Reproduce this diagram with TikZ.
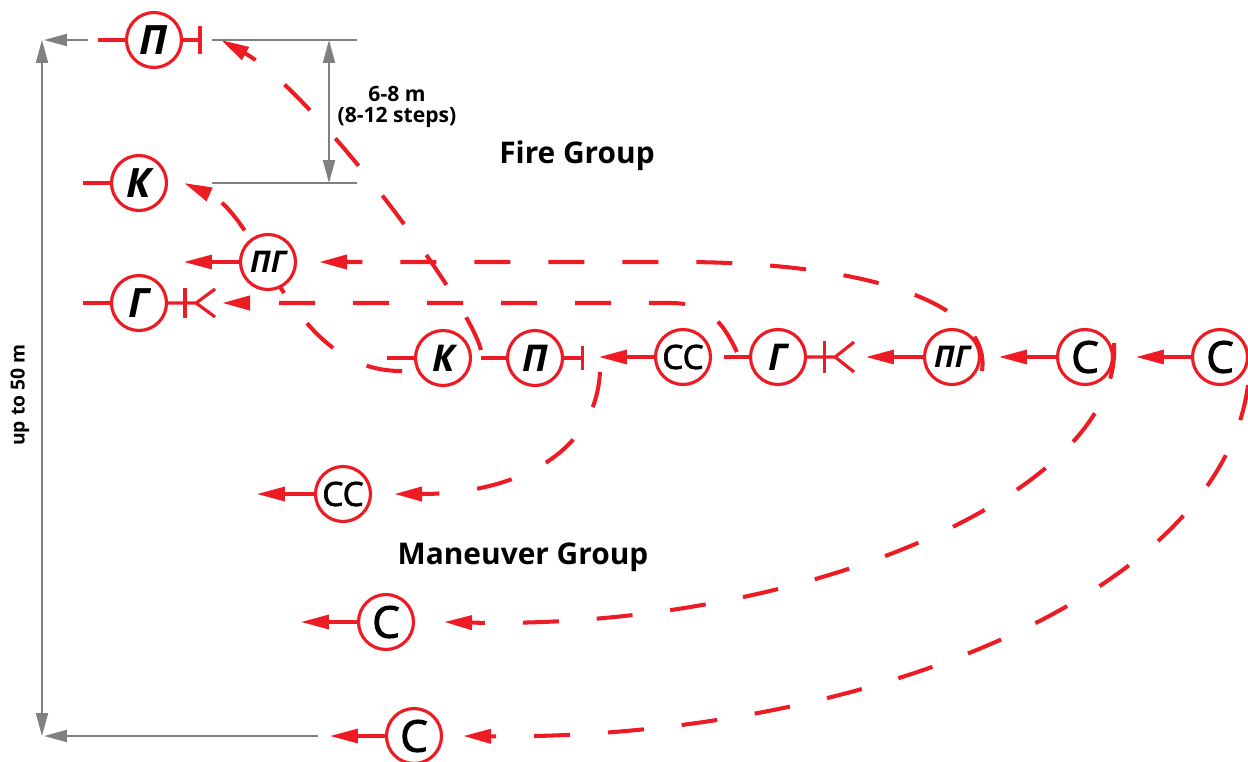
\documentclass[tikz,border=0pt]{standalone}
\usepackage{fontspec}
\setmainfont{Open Sans}
\newfontfamily\medfont[FakeBold=2]{Open Sans}
\usetikzlibrary{arrows.meta,backgrounds}
\definecolor{unitred}{RGB}{237,28,36}
\definecolor{dimgray}{RGB}{128,128,128}
\tikzset{
  unit/.style={circle,draw=unitred,line width=1.8pt,fill=white,minimum size=1.1cm,inner sep=0pt},
  bigletter/.style={font=\bfseries\itshape\fontsize{23}{23}\selectfont},
  rowletter/.style={font=\bfseries\itshape\fontsize{21}{21}\selectfont},
  pairletter/.style={font=\bfseries\itshape\fontsize{17}{17}\selectfont},
  cletter/.style={font=\medfont\fontsize{25}{25}\selectfont},
  ccletter/.style={font=\medfont\fontsize{19}{19}\selectfont},
  tail/.style={unitred,line width=1.8pt},
  lead/.style={unitred,line width=1.8pt,-{Triangle[length=0.56cm,width=0.28cm]}},
  move/.style={unitred,line width=2.3pt,dash pattern=on 0.72cm off 0.76cm,-{Triangle[length=0.56cm,width=0.28cm]}},
  dimline/.style={dimgray,line width=1.1pt},
  dimarrow/.style={dimgray,line width=1.1pt,-{Triangle[length=0.46cm,width=0.24cm]}},
  dimboth/.style={dimgray,line width=1.1pt,{Triangle[length=0.46cm,width=0.24cm]}-{Triangle[length=0.46cm,width=0.24cm]}},
  grouptext/.style={font=\bfseries\fontsize{17}{17}\selectfont},
  dimtext/.style={font=\bfseries\fontsize{12}{12}\selectfont,align=center},
  sidetext/.style={font=\bfseries\fontsize{11}{11}\selectfont,rotate=90}
}
\begin{document}
\begin{tikzpicture}[x=0.02cm,y=-0.02cm]
  \useasboundingbox (0,0) rectangle (1248,761);

  % fire group, new places
  \node[unit,bigletter] (ptop) at (154,40) {П};
  \node[unit,bigletter] (ktop) at (139,183) {К};
  \node[unit,pairletter] (pgup) at (268,262) {ПГ};
  \node[unit,bigletter] (gleft) at (139,303) {Г};

  % column on the move
  \node[unit,rowletter] (krow) at (443,358) {К};
  \node[unit,rowletter] (prow) at (535,358) {П};
  \node[unit,ccletter] (ccrow) at (683,357) {СС};
  \node[unit,rowletter] (grow) at (778,357) {Г};
  \node[unit,pairletter] (pgrow) at (952,357) {ПГ};
  \node[unit,cletter] (crow) at (1085,357) {С};
  \node[unit,cletter] (cright) at (1220,357) {С};

  % maneuver group, new places
  \node[unit,ccletter] (cclow) at (343,494) {СС};
  \node[unit,cletter] (clowa) at (386,622) {С};
  \node[unit,cletter] (clowb) at (414,736) {С};

  % tails and weapons
  \draw[tail] (ptop.west) -- ++(-27,0);
  \draw[tail] (ptop.east) -- ++(17,0) ++(0,-14) -- ++(0,28);
  \draw[tail] (ktop.west) -- ++(-27,0);
  \draw[tail] (gleft.west) -- ++(-27,0);
  \draw[tail] (gleft.east) -- ++(28,0) ++(19,-14) -- ++(-19,14) -- ++(19,14);
  \draw[tail] ([shift={(17,-15)}]gleft.east) -- ++(0,30);
  \draw[tail] (krow.west) -- ++(-27,0);
  \draw[tail] (prow.west) -- ++(-25,0);
  \draw[tail] (prow.east) -- ++(18,0) ++(0,-12) -- ++(0,24);
  \draw[tail] (grow.west) -- ++(-25,0);
  \draw[tail] (grow.east) -- ++(28,0) ++(19,-15) -- ++(-19,15) -- ++(19,15);
  \draw[tail] ([shift={(17,-16)}]grow.east) -- ++(0,32);
  \draw[lead] (pgup.west) -- ++(-55,0);
  \draw[lead] (ccrow.west) -- ++(-55,0);
  \draw[lead] (pgrow.west) -- ++(-57,0);
  \draw[lead] (crow.west) -- ++(-57,0);
  \draw[lead] (cright.west) -- ++(-55,0);
  \draw[lead] (cclow.west) -- ++(-57,0);
  \draw[lead] (clowa.west) -- ++(-56,0);
  \draw[lead] (clowb.west) -- ++(-55,0);

  % moves
  \begin{pgfonlayer}{background}
    \draw[move] ([shift={(-41,13)}]krow.center) .. controls +(-112,1) and +(78,35) .. ([shift={(16,0)}]ktop.east);
    \draw[move] ([shift={(-25,-8)}]prow.west) .. controls +(-12,-50) and +(90,50) .. ([shift={(38,0)}]ptop.east);
    \draw[move] ([shift={(-12,-5)}]grow.west) .. controls +(-16,-34) and +(35,0) .. (670,303) -- ([shift={(54,0)}]gleft.east);
    \draw[move] ([shift={(30,14)}]pgrow.center) .. controls +(10,-70) and +(180,0) .. (680,262) -- ([shift={(22,0)}]pgup.east);
    \draw[move] ([shift={(-83,15)}]ccrow.center) .. controls +(-5,90) and +(108,0) .. ([shift={(22,0)}]cclow.east);
    \draw[move] ([shift={(29,-14)}]crow.center) .. controls +(10,150) and +(358,8) .. ([shift={(29,0)}]clowa.east);
    \draw[move] ([shift={(28,28)}]cright.center) .. controls +(-28,215) and +(388,4) .. ([shift={(20,0)}]clowb.east);
  \end{pgfonlayer}

  % distances
  \draw[dimline] (212,40) -- (357,40);
  \draw[dimline] (212,183) -- (357,183);
  \draw[dimboth] (329,40) -- (329,183);
  \node[dimtext] (gap) at (397,107) {6-8 m\\(8-12 steps)};
  \draw[dimarrow] (88,40) -- (44,40);
  \draw[dimboth] (42,40) -- (42,736);
  \draw[dimarrow] (318,736) -- (44,736);
  \node[sidetext] (depth) at (20,395) {up to 50 m};

  \node[grouptext] (fire) at (577,156) {Fire Group};
  \node[grouptext] (maneuver) at (523,557) {Maneuver Group};
\end{tikzpicture}
\end{document}
